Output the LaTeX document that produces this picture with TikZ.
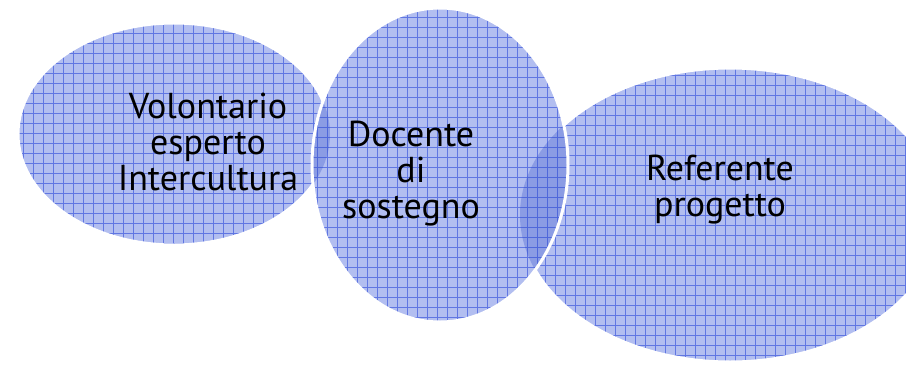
\documentclass[tikz,border=0pt]{standalone}
\usepackage{fontspec}
\setmainfont{PT Sans}
\definecolor{basefill}{RGB}{178,190,240}
\definecolor{gridline}{RGB}{96,118,226}
\definecolor{lensfill}{RGB}{40,70,200}
\tikzset{
  lbl/.style={align=center, font=\fontsize{36}{36}\selectfont, text=black, inner sep=0pt},
  rim/.style={draw=white, line width=3pt},
  gridln/.style={gridline, line width=0.55pt},
}
\newcommand{\gridfill}[1]{%
  \fill[basefill] (0,0) rectangle (906,365);
  \foreach \gx in {0,10,...,900} {\draw[gridln] (\gx+#1,-2) -- (\gx+#1,370);}
  \foreach \gy in {0,10,...,360} {\draw[gridln] (-2,\gy+#1) -- (910,\gy+#1);}
}
\begin{document}
\begin{tikzpicture}[x=1pt,y=-1pt]
\useasboundingbox (0,0) rectangle (906,365);
% ellipse 1
\begin{scope}
  \clip (174,134) ellipse [x radius=156, y radius=111];
  \gridfill{3}
\end{scope}
\draw[rim] (174,134) ellipse [x radius=156, y radius=111];
% ellipse 3
\begin{scope}
  \clip (730,215) ellipse [x radius=210, y radius=147];
  \gridfill{5}
\end{scope}
\draw[rim] (730,215) ellipse [x radius=210, y radius=147];
% ellipse 2
\begin{scope}
  \clip (440,165) ellipse [x radius=128, y radius=157];
  \gridfill{7}
\end{scope}
% lenses
\begin{scope}
  \clip (440,165) ellipse [x radius=128, y radius=157];
  \fill[lensfill, opacity=0.28] (174,134) ellipse [x radius=156, y radius=111];
  \fill[lensfill, opacity=0.28] (730,215) ellipse [x radius=210, y radius=147];
\end{scope}
\draw[rim] (440,165) ellipse [x radius=128, y radius=157];
% labels
\node[lbl] (a) at (208,142) {Volontario\\esperto\\Intercultura};
\node[lbl] (b) at (411,174) {Docente\\di\\sostegno};
\node[lbl] (c) at (720,190) {Referente\\progetto};
\end{tikzpicture}
\end{document}
